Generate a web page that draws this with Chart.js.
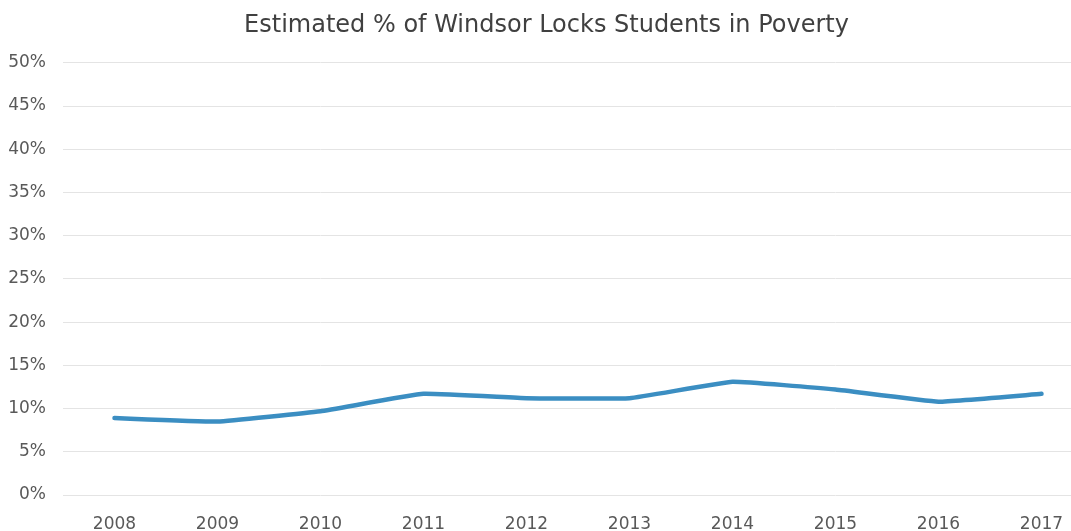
<!DOCTYPE html>
<html>
<head>
<meta charset="utf-8">
<script src="https://cdn.jsdelivr.net/npm/chart.js@4"></script>
<style>
  html, body { margin: 0; padding: 0; overflow: hidden; background: #fff; }
  #wrap { width: 1095px; height: 531px; }
</style>
</head>
<body>
<div id="wrap"><canvas id="graficaPobreza"></canvas></div>
<script>
// datos
const anios = ['2008', '2009', '2010', '2011', '2012', '2013', '2014', '2015', '2016', '2017'];
const pobreza = [8.9, 8.5, 9.7, 11.7, 11.2, 11.2, 13.1, 12.2, 10.8, 11.7];
const ticksY = [0, 5, 10, 15, 20, 25, 30, 35, 40, 45, 50];

const fuente = "'DejaVu Sans', sans-serif";

let ctx = document.getElementById('graficaPobreza').getContext('2d');
new Chart(ctx, {
    type: 'line',
    data: {
        labels: anios,
        datasets: [{
            label: 'Students in Poverty',
            data: pobreza,
            borderColor: '#3b8ec2',
            borderWidth: 4.5,
            pointRadius: 0,
            tension: 0.1,
            borderCapStyle: 'round',
            borderJoinStyle: 'round',
            fill: false
        }]
    },
    options: {
        responsive: true,
        maintainAspectRatio: false,
        animation: false,
        layout: { padding: { left: 0, right: 2, top: 0, bottom: 0 } },
        plugins: {
            legend: { display: false },
            tooltip: { enabled: false },
            title: {
                display: true,
                text: 'Estimated % of Windsor Locks Students in Poverty',
                color: '#404040',
                font: { family: fuente, size: 24, weight: 'normal' },
                padding: { top: 11, bottom: 23 }
            }
        },
        scales: {
            x: {
                offset: true,
                grid: { display: false },
                border: { display: false },
                ticks: {
                    color: '#595959',
                    font: { family: fuente, size: 17 },
                    padding: 11,
                    maxRotation: 0
                },
                afterFit: s => { s.height = 36; }
            },
            y: {
                min: 0,
                max: 50,
                afterBuildTicks: s => { s.ticks = ticksY.map(v => ({ value: v })); },
                grid: { color: '#e4e4e4', lineWidth: 1, drawTicks: false },
                border: { display: false },
                ticks: {
                    color: '#595959',
                    font: { family: fuente, size: 17 },
                    padding: 17,
                    callback: v => v + '%'
                },
                afterFit: s => { s.width = 63; }
            }
        }
    }
});
</script>
</body>
</html>
